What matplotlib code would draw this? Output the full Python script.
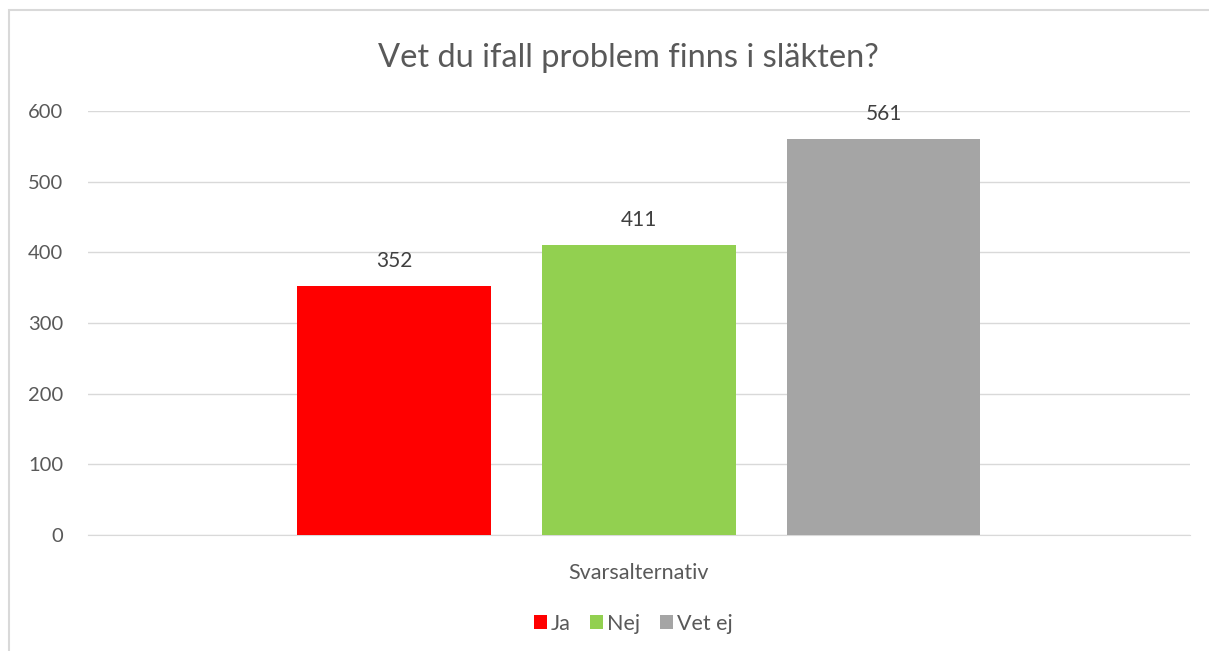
import matplotlib.pyplot as plt
from matplotlib.patches import Rectangle

categories = ['Ja', 'Nej', 'Vet ej']
values = [352, 411, 561]
colors = ['#ff0000', '#92d050', '#a5a5a5']
yticks = [0, 100, 200, 300, 400, 500, 600]

plt.rcParams['font.family'] = ['Lato', 'DejaVu Sans']

fig = plt.figure(figsize=(12.09, 6.51), dpi=100)
ax = fig.add_axes([0.0728, 0.178, 0.9112, 0.6515])

x = [0, 1, 2]
bars = ax.bar(x, values, width=0.79, color=colors, label=categories, zorder=3)
for xi, v in zip(x, values):
    ax.annotate(str(v), (xi, v), xytext=(0, 18), textcoords='offset points',
                ha='center', va='center', fontsize=15, color='#404040')

ax.set_xlim(-1.25, 3.25)
ax.set_ylim(0, 600)
ax.set_yticks(yticks)
ax.set_xticks([])
ax.tick_params(axis='y', length=0, labelsize=14.5, labelcolor='#595959', pad=18)
ax.grid(axis='y', color='#d9d9d9', linewidth=1, zorder=0)
for s in ['top', 'right', 'left']:
    ax.spines[s].set_visible(False)
ax.spines['bottom'].set_color('#d9d9d9')

fig.text(628 / 1209, 1 - 58 / 651, 'Vet du ifall problem finns i släkten?',
         fontsize=23.5, color='#595959', ha='center', va='center')
ax.set_xlabel('Svarsalternativ', fontsize=15.5, color='#595959', labelpad=20)

ax.legend(loc='upper center', bbox_to_anchor=(0.495, -0.14), ncol=3, frameon=False,
          fontsize=15.5, labelcolor='#595959', handlelength=0.6, handleheight=0.6,
          handletextpad=0.2, columnspacing=0.9)

# chart area border
fig.patches.append(Rectangle((9 / 1209, -0.1), 1.2, (651 - 10) / 651 + 0.1,
                             transform=fig.transFigure, fill=False,
                             edgecolor='#d9d9d9', linewidth=1.5))

plt.savefig('out.png', dpi=100)
